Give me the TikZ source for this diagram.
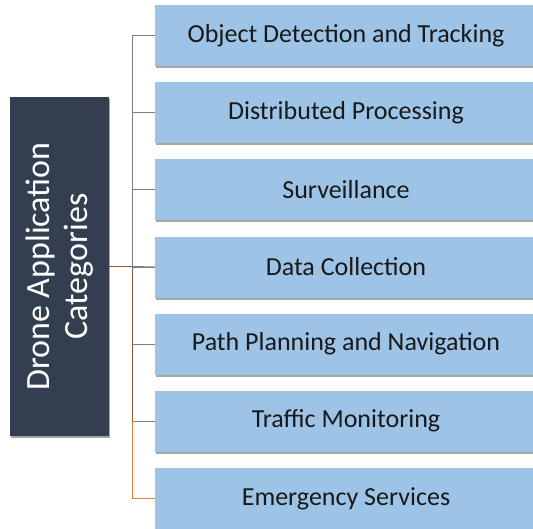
\documentclass[tikz,border=0pt]{standalone}
\usepackage{fontspec}
\setmainfont{Carlito}
\usetikzlibrary{positioning}
\definecolor{rootblue}{HTML}{333F50}
\definecolor{catblue}{HTML}{9DC3E6}
\definecolor{shadowgray}{HTML}{A6A6A6}
\definecolor{linkgray}{HTML}{7F7F7F}
\definecolor{linkbrown}{HTML}{8A5A3A}
\definecolor{linkorange}{HTML}{ED7D31}

\begin{document}
\begin{tikzpicture}[x=1pt, y=-1pt, node distance=15.7pt,
  boxshadow/.style = {preaction={fill=shadowgray, transform canvas={xshift=1pt, yshift=-2pt}}},
  cat/.style = {fill=catblue, boxshadow, minimum width=382pt, minimum height=61pt, inner sep=0pt,
    font=\fontsize{26}{30}\selectfont, text=black!90},
  root/.style = {fill=rootblue, boxshadow, minimum width=99pt, minimum height=339pt, inner sep=0pt},
  branch/.style = {draw=linkgray, line width=1pt},
  rootbranch/.style = {draw=linkbrown, line width=1pt}]
\useasboundingbox (0,0) rectangle (533,528);
\node[root] (root) at (59.5,266.5) {};
\node[rotate=90, text=white, align=center, font=\fontsize{34}{38}\selectfont] (rootlabel) at (root.center) {Drone Application\\Categories};
\node[cat] (c4) at (346,267) {Data Collection};
\node[cat, above=of c4] (c3) {Surveillance};
\node[cat, above=of c3] (c2) {Distributed Processing};
\node[cat, above=of c2] (c1) {Object Detection and Tracking};
\node[cat, below=of c4] (c5) {Path Planning and Navigation};
\node[cat, below=of c5] (c6) {Traffic Monitoring};
\node[cat, below=of c6] (c7) {Emergency Services};
\coordinate (j) at (132.5,0);
% trunk and branches
\draw[branch] (c1.west) -- (c1.west -| j) -- (c6.west -| j);
\foreach \i in {2,...,6}
  \draw[branch] (c\i.west) -- (c\i.west -| j);
\draw[rootbranch] (root.east) -- (root.east -| j) -- (c6.west -| j);
\draw[branch] (root.east -| j) -- (c4.west);
\draw[draw=linkorange, line width=1pt] (c6.west -| j) |- (c7.west);
\end{tikzpicture}
\end{document}
